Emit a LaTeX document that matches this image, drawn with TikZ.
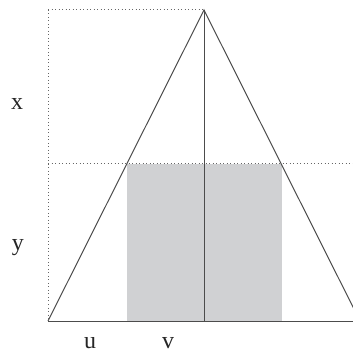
\documentclass[tikz,border=0pt]{standalone}
\usepackage{fontspec}
\setmainfont{Liberation Serif}
\begin{document}
\begin{tikzpicture}[x=1pt,y=-1pt,
  solidline/.style={draw=black!70,line width=1pt},
  dotline/.style={draw=black!60,line width=1pt,dash pattern=on 1pt off 2.5pt},
  lbl/.style={font=\fontsize{24}{26}\selectfont,text=black!85,anchor=base,inner sep=0pt}]
\useasboundingbox (0,0) rectangle (353,352);
\coordinate (apex) at (204,10);
\coordinate (bl) at (48,321);
\coordinate (br) at (360,321);
\coordinate (tl) at (48,10);
\coordinate (ml) at (48,164);
\coordinate (mr) at (353,164);
\coordinate (mid) at (204,321);
\coordinate (re) at (353,321);
\fill[fill={rgb,255:red,208;green,209;blue,211}] (126.5,164) rectangle (281.5,321);
\begin{scope}
\clip (0,0) rectangle (353,352);
\draw[solidline] (bl) -- (apex) -- (br);
\end{scope}
\draw[solidline] (bl) -- (re);
\draw[solidline] (apex) -- (mid);
\draw[dotline] (tl) -- (apex);
\draw[dotline] (tl) -- (bl);
\draw[dotline] (ml) -- (mr);
\node[lbl] (lx) at (17,110) {x};
\node[lbl] (ly) at (18,251) {y};
\node[lbl] (lu) at (90,348) {u};
\node[lbl] (lv) at (168,348) {v};
\end{tikzpicture}
\end{document}
